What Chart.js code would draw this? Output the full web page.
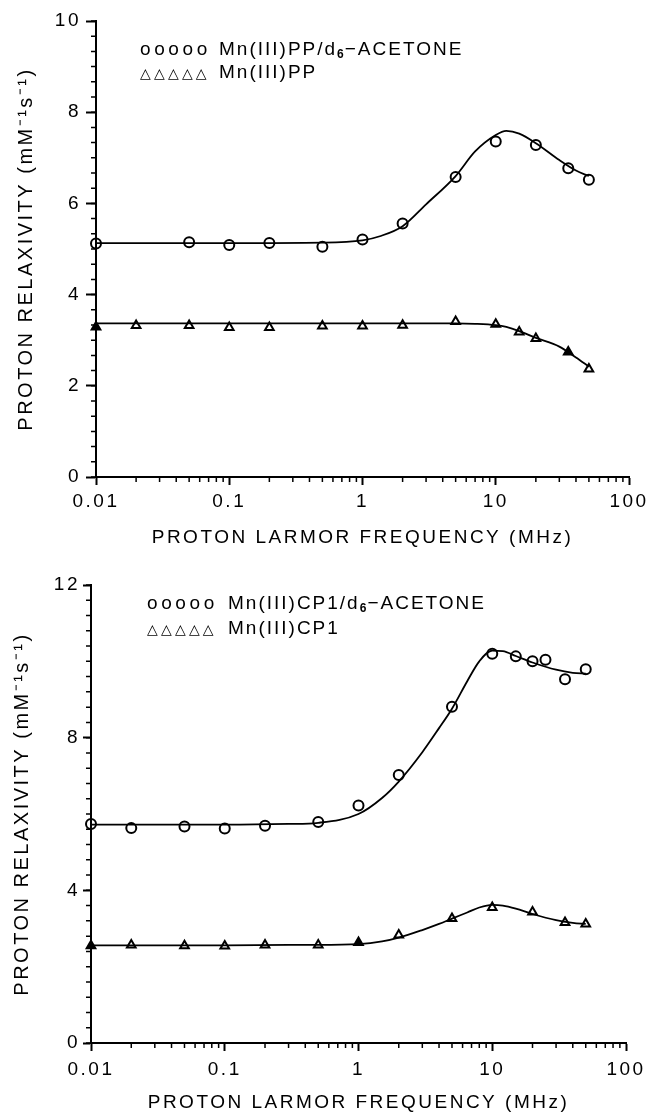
<!DOCTYPE html>
<html>
<head>
  <title>Proton relaxivity - Mn(III) porphyrins</title>
  <script src="https://cdn.jsdelivr.net/npm/chart.js"></script>
  <style>
    body { margin: 0; background: #fff; }
    #page { position: relative; width: 648px; height: 1112px; overflow: hidden; }
    .box { position: absolute; left: 0; width: 648px; }
    .leg { position: absolute; font: 19px 'Liberation Sans', Arial, sans-serif; letter-spacing: 2px; line-height: 22px; white-space: nowrap; color: #000; }
    .sym { display: inline-block; }
    .circ { letter-spacing: 3.6px; }
    .tri { font: 14px 'DejaVu Sans'; letter-spacing: 3.2px; }
    sub { font-size: 12px; font-weight: bold; vertical-align: -3px; line-height: 0; letter-spacing: 1px; }
  </style>
</head>
<body>
<div id="page">
  <div class="box" style="top:0;height:560px"><canvas id="chart-pp" width="648" height="560"></canvas></div>
  <div class="box" style="top:560px;height:552px"><canvas id="chart-cp" width="648" height="552"></canvas></div>

  <!-- leyendas -->
  <div class="leg" style="left:140px;top:38px"><span class="sym circ" style="width:79px">ooooo</span>Mn(III)PP/d<sub>6</sub>−ACETONE</div>
  <div class="leg" style="left:140px;top:61px"><span class="sym tri" style="width:79px">△△△△△</span>Mn(III)PP</div>
  <div class="leg" style="left:147px;top:592px"><span class="sym circ" style="width:81px">ooooo</span>Mn(III)CP1/d<sub>6</sub>−ACETONE</div>
  <div class="leg" style="left:147px;top:617px"><span class="sym tri" style="width:81px">△△△△△</span>Mn(III)CP1</div>
</div>

<script>
  // axis ticks
  const xTicks = [0.01, 0.1, 1, 10, 100];
  const xLabels = ['0.01', '0.1', '1', '10', '100'];
  const ppYTicks = [0, 2, 4, 6, 8, 10];
  const cpYTicks = [0, 4, 8, 12];

  // top panel: Mn(III)PP
  const ppAcetoneFreq = [0.01, 0.05, 0.1, 0.2, 0.5, 1, 2, 5, 10, 20, 35, 50];
  const ppAcetone = [5.12, 5.15, 5.09, 5.13, 5.05, 5.21, 5.56, 6.58, 7.36, 7.28, 6.77, 6.52];
  const ppFreq = [0.01, 0.02, 0.05, 0.1, 0.2, 0.5, 1, 2, 5, 10, 15, 20, 35, 50];
  const pp = [3.29, 3.32, 3.32, 3.28, 3.28, 3.31, 3.31, 3.33, 3.41, 3.35, 3.18, 3.04, 2.74, 2.37];
  const ppFitFreq = [0.01, 0.1, 0.5, 1, 1.35, 2, 3, 5, 7, 10, 12, 15, 20, 30, 40, 50];
  const ppAcetoneFit = [5.13, 5.13, 5.14, 5.19, 5.28, 5.5, 5.98, 6.6, 7.14, 7.5, 7.59, 7.53, 7.32, 6.95, 6.72, 6.6];
  const ppFit = [3.37, 3.37, 3.37, 3.37, 3.37, 3.37, 3.37, 3.37, 3.36, 3.33, 3.29, 3.2, 3.05, 2.86, 2.62, 2.42];
  const ppSolid = [0, 12];

  // bottom panel: Mn(III)CP1
  const cpAcetoneFreq = [0.01, 0.02, 0.05, 0.1, 0.2, 0.5, 1, 2, 5, 10, 15, 20, 25, 35, 50];
  const cpAcetone = [5.74, 5.63, 5.67, 5.62, 5.69, 5.79, 6.22, 7.02, 8.81, 10.2, 10.13, 10.0, 10.04, 9.53, 9.79];
  const cpFreq = [0.01, 0.02, 0.05, 0.1, 0.2, 0.5, 1, 2, 5, 10, 20, 35, 50];
  const cp = [2.55, 2.57, 2.55, 2.54, 2.57, 2.57, 2.63, 2.83, 3.26, 3.55, 3.43, 3.16, 3.12];
  const cpFitFreq = [0.01, 0.1, 0.3, 0.5, 1, 1.5, 2, 3, 4, 5, 6.5, 8, 10, 12, 15, 20, 30, 40, 50];
  const cpAcetoneFit = [5.72, 5.72, 5.74, 5.77, 6.0, 6.42, 6.85, 7.62, 8.25, 8.76, 9.48, 10.0, 10.28, 10.27, 10.14, 9.97, 9.78, 9.7, 9.68];
  const cpFit = [2.56, 2.56, 2.57, 2.57, 2.59, 2.66, 2.76, 2.96, 3.12, 3.26, 3.42, 3.55, 3.62, 3.6, 3.52, 3.38, 3.22, 3.15, 3.12];
  const cpSolid = [0, 6];

  Chart.defaults.font.family = "'Liberation Sans', Arial, sans-serif";
  Chart.defaults.font.size = 19;
  Chart.defaults.color = '#000';

  // small unlabeled ticks on both axes
  const minorTicks = {
    id: 'minorTicks',
    afterDraw(chart, args, opts) {
      const ctx = chart.ctx, x = chart.scales.x, y = chart.scales.y;
      ctx.save();
      ctx.strokeStyle = '#000';
      ctx.lineWidth = 1.5;
      ctx.beginPath();
      for (let d = 0; d < xTicks.length - 1; d++) {
        for (let k = 2; k <= 9; k++) {
          const px = x.getPixelForValue(xTicks[d] * k);
          ctx.moveTo(px, x.top);
          ctx.lineTo(px, x.top + 5);
        }
      }
      const n = Math.round(y.max / opts.yStep);
      for (let k = 0; k <= n; k++) {
        const py = y.getPixelForValue(k * opts.yStep);
        ctx.moveTo(y.right, py);
        ctx.lineTo(y.right - 5, py);
      }
      ctx.stroke();
      ctx.restore();
    }
  };

  // wider lettering like the plotter font
  const spacing = {
    id: 'spacing',
    beforeUpdate(chart) { chart.ctx.letterSpacing = '2.5px'; },
    beforeDraw(chart) { chart.ctx.letterSpacing = '2.5px'; }
  };

  function points(xs, ys, style, solid) {
    return {
      data: xs.map((x, i) => ({ x: x, y: ys[i] })),
      showLine: false,
      pointStyle: style,
      pointRadius: 5,
      pointBorderWidth: 2,
      pointBorderColor: '#000',
      pointBackgroundColor: ys.map((v, i) => solid.includes(i) ? '#000' : 'rgba(0,0,0,0)'),
      clip: false
    };
  }

  function curve(xs, ys) {
    return {
      data: xs.map((x, i) => ({ x: x, y: ys[i] })),
      showLine: true,
      pointRadius: 0,
      borderColor: '#000',
      borderWidth: 1.8,
      cubicInterpolationMode: 'monotone',
      fill: false
    };
  }

  function makeChart(id, o) {
    return new Chart(document.getElementById(id), {
      type: 'scatter',
      data: {
        datasets: [
          points(o.acetoneFreq, o.acetone, 'circle', []),
          points(o.freq, o.neat, 'triangle', o.solid),
          curve(o.fitFreq, o.acetoneFit),
          curve(o.fitFreq, o.neatFit)
        ]
      },
      options: {
        responsive: false,
        animation: false,
        events: [],
        layout: { padding: { top: o.padTop, right: o.padRight, bottom: 0, left: 0 } },
        plugins: {
          legend: { display: false },
          tooltip: { enabled: false },
          minorTicks: { yStep: o.yStep }
        },
        scales: {
          x: {
            type: 'logarithmic',
            min: 0.01,
            max: 100,
            border: { color: '#000', width: 2 },
            grid: { drawOnChartArea: false, tickLength: 8, tickWidth: 2, tickColor: '#000' },
            afterBuildTicks: s => { s.ticks = xTicks.map(v => ({ value: v })); },
            afterFit: s => { s.height = o.xHeight; s.paddingLeft = 0; s.paddingRight = 0; },
            ticks: {
              autoSkip: false, maxRotation: 0, padding: o.xPad,
              callback: v => xLabels[xTicks.indexOf(v)]
            },
            title: {
              display: true,
              text: 'PROTON LARMOR FREQUENCY (MHz)',
              font: { size: 19, lineHeight: 1 },
              padding: { top: 0, bottom: o.xTitlePad }
            }
          },
          y: {
            min: 0,
            max: o.yTicks[o.yTicks.length - 1],
            border: { color: '#000', width: 2 },
            grid: { drawOnChartArea: false, tickLength: o.yTick, tickWidth: 2, tickColor: '#000' },
            afterBuildTicks: s => { s.ticks = o.yTicks.map(v => ({ value: v })); },
            afterFit: s => { s.width = o.yWidth; s.paddingTop = 0; s.paddingBottom = 0; },
            ticks: { padding: o.yPad, callback: v => String(v) },
            title: {
              display: true,
              text: 'PROTON RELAXIVITY (mM⁻¹s⁻¹)',
              font: { size: 20, lineHeight: 1 },
              padding: { top: o.yTitlePad, bottom: 0 }
            }
          }
        }
      },
      plugins: [spacing, minorTicks]
    });
  }

  makeChart('chart-pp', {
    acetoneFreq: ppAcetoneFreq, acetone: ppAcetone,
    freq: ppFreq, neat: pp, solid: ppSolid,
    fitFreq: ppFitFreq, acetoneFit: ppAcetoneFit, neatFit: ppFit,
    yTicks: ppYTicks, yStep: 2 / 6,
    padTop: 21, padRight: 19, xHeight: 83, yWidth: 96,
    xPad: 5, xTitlePad: 13, yTick: 10, yPad: 5, yTitlePad: 16
  });

  makeChart('chart-cp', {
    acetoneFreq: cpAcetoneFreq, acetone: cpAcetone,
    freq: cpFreq, neat: cp, solid: cpSolid,
    fitFreq: cpFitFreq, acetoneFit: cpAcetoneFit, neatFit: cpFit,
    yTicks: cpYTicks, yStep: 0.4,
    padTop: 25, padRight: 22, xHeight: 69, yWidth: 91,
    xPad: 7, xTitlePad: 0, yTick: 8, yPad: 3, yTitlePad: 12
  });
</script>
</body>
</html>
